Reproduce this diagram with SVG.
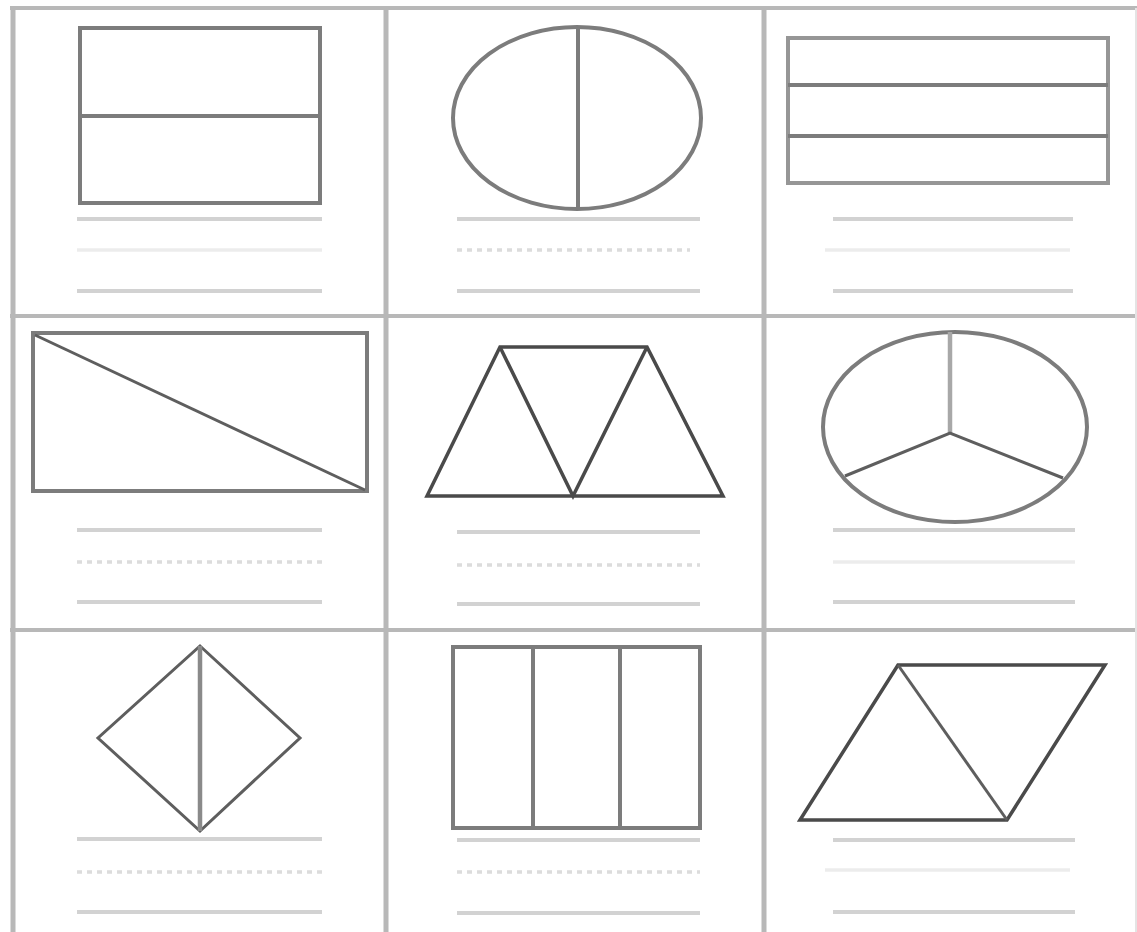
<svg xmlns="http://www.w3.org/2000/svg" width="1137" height="932" viewBox="0 0 1137 932">
<style>
.grid{stroke:#b8b8b8;stroke-width:4;fill:none}
.gridv{stroke:#b8b8b8;stroke-width:5;fill:none}
.shape{stroke:#7c7c7c;stroke-width:4;fill:none}
.shapel{stroke:#969696;stroke-width:4;fill:none}
.dark{stroke:#4a4a4a;stroke-width:3.5;fill:none;stroke-linejoin:miter}
.mid{stroke:#5e5e5e;stroke-width:3;fill:none}
.w1{stroke:#d2d2d2;stroke-width:4}
.w2{stroke:#ececec;stroke-width:3.5}
.wd{stroke:#dcdcdc;stroke-width:3.5;stroke-dasharray:5 5}
</style>
<rect width="1137" height="932" fill="#ffffff"/>
<g id="grid">
<line class="grid" x1="10" y1="8" x2="1137" y2="8"/>
<line class="grid" x1="10" y1="316" x2="1137" y2="316"/>
<line class="grid" x1="10" y1="630" x2="1137" y2="630"/>
<line class="gridv" x1="13" y1="6" x2="13" y2="932"/>
<line class="gridv" x1="386" y1="6" x2="386" y2="932"/>
<line class="gridv" x1="764" y1="6" x2="764" y2="932"/>
<line stroke="#e4e4e4" stroke-width="2" x1="1136" y1="8" x2="1136" y2="932"/>
</g>
<g id="cell-r1c1">
<rect class="shape" x="80" y="28" width="240" height="175"/>
<line class="shape" x1="80" y1="116" x2="320" y2="116"/>
<line class="w1" x1="77" y1="219" x2="322" y2="219"/>
<line class="w2" x1="77" y1="250" x2="322" y2="250"/>
<line class="w1" x1="77" y1="291" x2="322" y2="291"/>
</g>
<g id="cell-r1c2">
<ellipse class="shape" cx="577" cy="118" rx="124" ry="91"/>
<line class="shape" x1="578" y1="27" x2="578" y2="210"/>
<line class="w1" x1="457" y1="219" x2="700" y2="219"/>
<line class="wd" x1="457" y1="250" x2="690" y2="250"/>
<line class="w1" x1="457" y1="291" x2="700" y2="291"/>
</g>
<g id="cell-r1c3">
<rect class="shapel" x="788" y="38" width="320" height="145"/>
<line class="shape" x1="788" y1="85" x2="1108" y2="85"/>
<line class="shape" x1="788" y1="136" x2="1108" y2="136"/>
<line class="w1" x1="833" y1="219" x2="1073" y2="219"/>
<line class="w2" x1="825" y1="250" x2="1070" y2="250"/>
<line class="w1" x1="833" y1="291" x2="1073" y2="291"/>
</g>
<g id="cell-r2c1">
<rect class="shape" x="33" y="333" width="334" height="158"/>
<line class="mid" x1="35" y1="335" x2="365" y2="490"/>
<line class="w1" x1="77" y1="530" x2="322" y2="530"/>
<line class="wd" x1="77" y1="562" x2="322" y2="562"/>
<line class="w1" x1="77" y1="602" x2="322" y2="602"/>
</g>
<g id="cell-r2c2">
<polygon class="dark" points="427,496 500,347 647,347 723,496"/>
<polyline class="dark" points="500,347 573,496 647,347"/>
<line class="w1" x1="457" y1="532" x2="700" y2="532"/>
<line class="wd" x1="457" y1="565" x2="700" y2="565"/>
<line class="w1" x1="457" y1="604" x2="700" y2="604"/>
</g>
<g id="cell-r2c3">
<ellipse class="shape" cx="955" cy="427" rx="132" ry="95"/>
<line stroke="#a8a8a8" stroke-width="4.5" x1="950" y1="332" x2="950" y2="433"/>
<polyline class="mid" points="845,476 950,433 1063,478"/>
<line class="w1" x1="833" y1="530" x2="1075" y2="530"/>
<line class="w2" x1="833" y1="562" x2="1075" y2="562"/>
<line class="w1" x1="833" y1="602" x2="1075" y2="602"/>
</g>
<g id="cell-r3c1">
<polygon class="mid" points="200,646 300,738 200,831 98,738"/>
<line stroke="#8a8a8a" stroke-width="4.5" x1="200" y1="646" x2="200" y2="831"/>
<line class="w1" x1="77" y1="839" x2="322" y2="839"/>
<line class="wd" x1="77" y1="872" x2="322" y2="872"/>
<line class="w1" x1="77" y1="912" x2="322" y2="912"/>
</g>
<g id="cell-r3c2">
<rect class="shape" x="453" y="647" width="247" height="181"/>
<line class="shape" x1="533" y1="647" x2="533" y2="828"/>
<line class="shape" x1="620" y1="647" x2="620" y2="828"/>
<line class="w1" x1="457" y1="840" x2="700" y2="840"/>
<line class="wd" x1="457" y1="872" x2="700" y2="872"/>
<line class="w1" x1="457" y1="913" x2="700" y2="913"/>
</g>
<g id="cell-r3c3">
<polygon class="dark" points="800,820 898,665 1105,665 1007,820"/>
<line class="mid" x1="898" y1="665" x2="1007" y2="820"/>
<line class="w1" x1="833" y1="840" x2="1075" y2="840"/>
<line class="w2" x1="825" y1="870" x2="1070" y2="870"/>
<line class="w1" x1="833" y1="912" x2="1075" y2="912"/>
</g>
</svg>
